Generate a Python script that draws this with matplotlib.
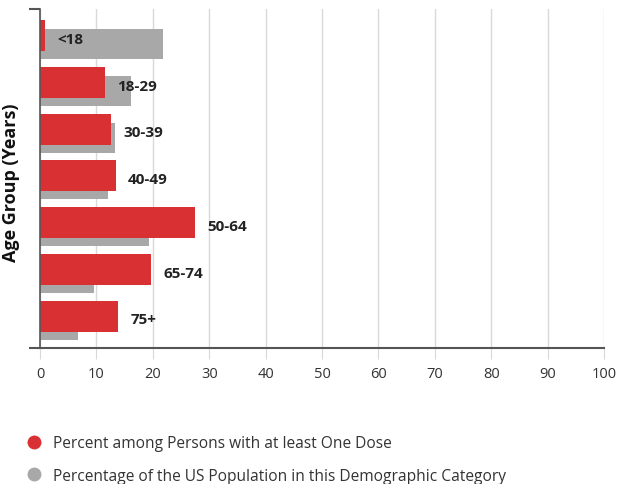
import matplotlib.pyplot as plt
from matplotlib.lines import Line2D

# Data
age_groups = ['<18', '18-29', '30-39', '40-49', '50-64', '65-74', '75+']
# Percent among persons with at least one dose
one_dose_pct = [0.9, 11.5, 12.6, 13.4, 27.5, 19.6, 13.8]
# Percentage of the US population in each category
population_pct = [21.8, 16.1, 13.3, 12.1, 19.3, 9.6, 6.8]

C_RED = '#d93033'
C_GRAY = '#a8a8a8'
C_GRID = '#d9d9d9'
C_AXIS = '#555555'

plt.rcParams['font.family'] = ['Open Sans', 'DejaVu Sans']

fig = plt.figure(figsize=(6.2, 4.85), dpi=100)
ax = fig.add_axes([40 / 620, 136 / 485, 564 / 620, 339 / 485])

pos = list(range(len(age_groups)))
ax.barh([p + 0.18 for p in pos], population_pct, height=0.64, color=C_GRAY, zorder=2)
ax.barh(pos, one_dose_pct, height=0.66, color=C_RED, zorder=3)

# Bar labels
for p, v, name in zip(pos, one_dose_pct, age_groups):
    ax.annotate(name, (v, p + 0.07), xytext=(9, 0), textcoords='offset points',
                ha='left', va='center', fontsize=11, fontweight='bold',
                color='#222222', zorder=4)

ax.set_xlim(0, 100)
ax.set_ylim(6.68, -0.57)

# Grid + axes
ax.set_xticks(range(0, 101, 10))
ax.grid(axis='x', color=C_GRID, linewidth=1, zorder=0)
ax.tick_params(axis='x', length=8, color=C_GRID, labelsize=10.5, labelcolor='#333333', pad=5)
ax.set_yticks([-0.57, 6.68])
ax.set_yticklabels([])
ax.tick_params(axis='y', length=8, color=C_AXIS, width=1.5)

for s in ['top', 'right']:
    ax.spines[s].set_visible(False)
ax.spines['left'].set_color(C_AXIS)
ax.spines['left'].set_linewidth(1.2)
ax.spines['bottom'].set_color(C_AXIS)
ax.spines['bottom'].set_linewidth(1.5)
ax.spines['left'].set_zorder(5)

ax.set_ylabel('Age Group (Years)', fontsize=13, fontweight='bold', color='#111111')
ax.yaxis.set_label_coords(-20 / 564, 0.49)

# Legend
handles = [Line2D([], [], marker='o', linestyle='', markersize=9, color=C_RED),
           Line2D([], [], marker='o', linestyle='', markersize=9, color=C_GRAY)]
labels = ['Percent among Persons with at least One Dose',
          'Percentage of the US Population in this Demographic Category']
fig.legend(handles, labels, loc='upper left', bbox_to_anchor=(20 / 620, 1 - 430 / 485),
           frameon=False, fontsize=11.2, handletextpad=0.75, labelspacing=1.05,
           handlelength=1.0, borderaxespad=0, labelcolor='#333333')

plt.savefig('out.png', dpi=100)
